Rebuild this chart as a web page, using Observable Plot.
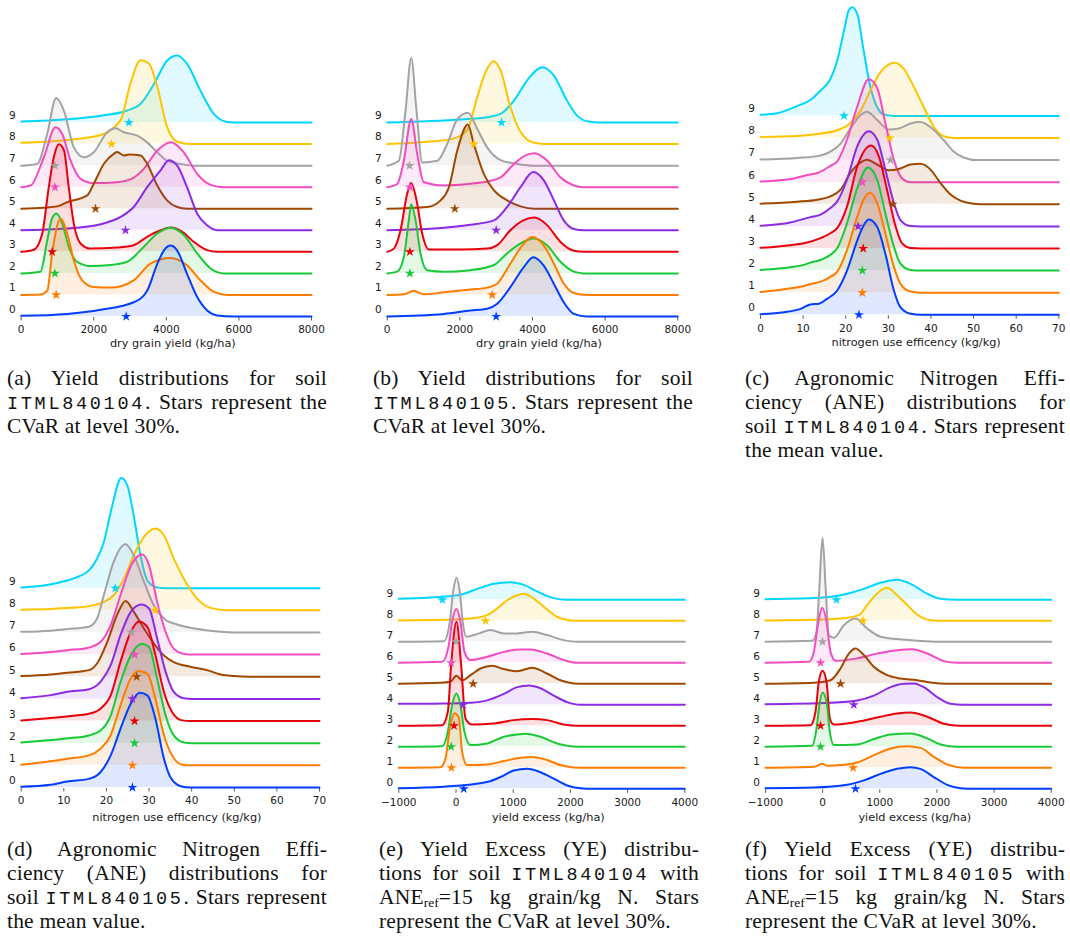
<!DOCTYPE html>
<html><head><meta charset="utf-8">
<script src="https://cdn.jsdelivr.net/npm/d3@7"></script>
<script src="https://cdn.jsdelivr.net/npm/@observablehq/plot@0.6"></script>
<style>
body{margin:0;background:#fff;}
#root{position:relative;width:1070px;height:947px;overflow:hidden;background:#fff;}
.panel{position:absolute;}
.cap{position:absolute;width:320px;font-family:"Liberation Serif","Times New Roman",serif;font-size:21.5px;letter-spacing:0.2px;line-height:24.3px;color:#111;}
.cap div{text-align:justify;text-align-last:justify;}
.cap div.last{text-align:left;text-align-last:left;}
.cap code{font-family:"Liberation Mono","DejaVu Sans Mono",monospace;font-size:18.5px;letter-spacing:2.7px;line-height:0;}
.cap sub{font-size:13.5px;line-height:0;vertical-align:-3px;letter-spacing:0;}
</style>
</head><body>
<div id="root"></div>
<script>
// ---------- shared ----------
const seriesLabels = ["0","1","2","3","4","5","6","7","8","9"];
const palette = ["#023eff","#ff7c00","#1ac938","#e8000b","#8b2be2","#9f4800","#f14cc1","#a3a3a3","#ffc400","#00d7ff"];
const ticksYield = [0,2000,4000,6000,8000];
const ticksNue = [0,10,20,30,40,50,60,70];
const ticksYe = [-1000,0,1000,2000,3000,4000];

// ---------- (a) yield, ITML840104 : [value, density height in ridge units] ----------
const densA = [
 [[0,0.03],[1270,0.12],[2190,0.31],[3100,0.66],[3470,1.2],[3750,2.44],[3930,3.06],[4115,3.29],[4300,3.06],[4570,1.98],[4850,0.9],[5125,0.28],[5400,0.05],[5860,0],[8000,0]],
 [[0,0],[530,0.02],[720,0.2],[850,1.9],[1080,3.54],[1270,2.84],[1450,1.6],[1680,0.68],[2000,0.37],[2460,0.34],[3100,0.68],[3560,1.45],[4115,1.72],[4570,1.38],[4940,0.68],[5310,0.14],[5680,0],[8000,0]],
 [[0,0],[530,0.08],[720,1.55],[850,2.55],[975,2.78],[1130,2.32],[1310,1.24],[1540,0.54],[1910,0.34],[2460,0.39],[2920,0.54],[3380,1.24],[3750,1.85],[4115,2.12],[4480,1.78],[4850,0.93],[5220,0.23],[5580,0],[8000,0]],
 [[0,0],[350,0.1],[580,0.85],[760,3.0],[900,4.4],[1040,4.99],[1180,4.7],[1310,3.0],[1450,1.31],[1635,0.39],[1910,0.15],[2645,0.2],[3100,0.31],[3470,0.7],[3840,1.0],[4115,1.13],[4440,0.93],[4760,0.46],[5125,0.08],[5400,0],[8000,0]],
 [[0,0],[1270,0.08],[2190,0.28],[2740,0.62],[3100,1.08],[3470,2.0],[3840,2.78],[4070,3.25],[4300,3.0],[4570,2.0],[4850,0.77],[5125,0.23],[5400,0],[8000,0]],
 [[0,0],[625,0.05],[990,0.11],[1270,0.31],[1820,0.62],[2000,1.16],[2280,2.09],[2550,2.55],[2645,2.63],[2830,2.47],[2970,2.52],[3290,2.47],[3470,2.09],[3750,1.08],[4020,0.39],[4300,0.08],[4570,0],[8000,0]],
 [[0,0],[260,0.08],[625,1.39],[946,2.78],[1130,2.47],[1360,1.24],[1635,0.39],[2000,0.19],[2645,0.23],[3010,0.36],[3380,0.85],[3750,1.7],[4130,2.09],[4480,1.62],[4850,0.62],[5220,0.11],[5580,0],[8000,0]],
 [[0,0],[440,0.08],[716,1.47],[964,3.14],[1176,2.55],[1450,0.85],[1730,0.39],[2000,0.62],[2370,1.55],[2600,1.73],[2830,1.55],[3200,1.39],[3470,1.08],[3750,0.62],[4020,0.23],[4390,0.08],[4760,0],[8000,0]],
 [[0,0.06],[1270,0.19],[2190,0.42],[2740,1.11],[3010,2.81],[3290,3.89],[3520,3.74],[3750,2.66],[4020,0.8],[4300,0.11],[4660,0],[8000,0]],
 [[0,0.05],[1270,0.15],[2190,0.32],[2920,0.56],[3290,0.87],[3660,1.79],[4020,2.87],[4300,3.11],[4570,2.72],[4940,1.48],[5310,0.4],[5680,0.03],[6060,0],[8000,0]]
];
const starsA = [2893, 964, 928, 854, 2875, 2048, 928, 928, 2489, 2967];

// ---------- (b) yield, ITML840105 ----------
const densB = [
 [[0,0],[1560,0.12],[2290,0.28],[2750,0.36],[3030,0.59],[3390,1.36],[3760,2.29],[4020,2.75],[4310,2.36],[4590,1.51],[4860,0.66],[5140,0.12],[5500,0],[8000,0]],
 [[0,0],[460,0.03],[730,0.19],[1010,0.03],[1560,0.12],[2290,0.25],[2750,0.34],[3030,0.53],[3390,1.45],[3760,2.38],[3990,2.69],[4310,2.3],[4590,1.45],[4860,0.53],[5140,0.09],[5500,0],[8000,0]],
 [[0,0],[275,0.08],[460,0.77],[596,2.47],[661,3.21],[780,2.47],[917,0.93],[1100,0.15],[1560,0.08],[2290,0.15],[2940,0.39],[3300,0.93],[3670,1.39],[4040,1.62],[4400,1.31],[4770,0.54],[5140,0.08],[5410,0],[8000,0]],
 [[0,0],[183,0.15],[367,1.0],[550,2.7],[661,3.2],[807,2.4],[963,0.85],[1150,0.11],[2020,0.11],[2750,0.15],[3030,0.31],[3390,1.0],[3760,1.47],[4055,1.59],[4400,1.24],[4770,0.46],[5140,0.05],[5410,0],[8000,0]],
 [[0,0],[1560,0.12],[2290,0.26],[2940,0.46],[3300,1.08],[3670,2.0],[4020,2.7],[4310,2.32],[4590,1.39],[4860,0.46],[5140,0.06],[5410,0],[8000,0]],
 [[0,0],[1100,0.08],[1470,0.39],[1700,1.0],[1930,2.7],[2220,3.91],[2385,3.0],[2660,1.62],[2940,0.85],[3300,0.39],[3670,0.11],[4040,0],[8000,0]],
 [[0,0],[275,0.15],[460,1.24],[661,3.17],[826,1.55],[1010,0.23],[1560,0.08],[2480,0.19],[3120,0.46],[3490,1.08],[3850,1.51],[4055,1.58],[4400,1.24],[4770,0.46],[5140,0.08],[5410,0],[8000,0]],
 [[0,0],[320,0.23],[505,2.55],[661,4.99],[807,2.55],[963,0.15],[1380,0.23],[1650,1.0],[1930,2.16],[2220,2.46],[2480,1.7],[2750,0.85],[3120,0.26],[3580,0.08],[4040,0],[8000,0]],
 [[0,0],[1100,0.11],[1740,0.22],[2200,0.65],[2480,2.19],[2710,3.35],[2920,3.85],[3120,3.43],[3390,1.73],[3670,0.57],[4040,0.06],[4400,0],[8000,0]],
 [[0,0],[1100,0.06],[2020,0.14],[2750,0.25],[3120,0.4],[3490,1.02],[3850,1.95],[4270,2.57],[4590,2.18],[4950,1.02],[5230,0.32],[5500,0.06],[5870,0],[8000,0]]
];
const starsB = [3000, 2890, 624, 624, 3000, 1862, 624, 615, 2385, 3147];

// ---------- (c) ANE, ITML840104 ----------
const densC = [
 [[0,0.03],[5.5,0.12],[9.4,0.27],[11.7,0.47],[13.7,0.5],[15.6,0.72],[18,1.1],[20.3,2.0],[22.7,3.36],[24.2,4.04],[25.4,4.31],[27.4,3.97],[29.3,2.76],[31.3,1.1],[32.8,0.35],[35.2,0.05],[37.5,0],[70,0]],
 [[0,0.03],[6.3,0.18],[9.4,0.27],[11.7,0.39],[14.1,0.5],[16.4,0.72],[18,0.95],[20.3,1.93],[22.7,3.44],[24.2,4.22],[25.7,4.52],[27.4,4.04],[29.3,2.68],[31.3,1.18],[32.8,0.42],[35.2,0.05],[37.5,0],[70,0]],
 [[0,0.03],[7,0.15],[10.2,0.26],[11.7,0.36],[14.1,0.48],[16.4,0.71],[18,1.01],[20.3,2.14],[22.7,3.73],[25.2,4.66],[27.4,4.1],[29.3,2.59],[31.3,1.09],[32.8,0.33],[35.2,0.03],[37.5,0],[70,0]],
 [[0,0.03],[7,0.15],[10.2,0.24],[14.1,0.47],[16.4,0.69],[18,0.92],[20.3,1.9],[22.7,3.71],[26,4.66],[27.8,4.16],[29.7,2.65],[31.7,1.0],[33.2,0.24],[35.2,0.02],[37.5,0],[70,0]],
 [[0,0.03],[7,0.18],[11.7,0.42],[14.1,0.53],[16.4,0.83],[18,1.13],[20.3,2.11],[22.7,3.62],[25.4,4.3],[27.4,3.92],[29.3,2.56],[31.3,1.06],[32.8,0.3],[35.2,0.02],[37.5,0],[70,0]],
 [[0,0.03],[8.6,0.12],[13.3,0.21],[16.4,0.36],[18.8,0.66],[21.1,1.42],[23.5,1.9],[25,2.02],[27.4,1.8],[30.1,1.54],[32.5,1.6],[35.2,1.8],[37.5,1.83],[39.9,1.57],[42.2,0.97],[44.6,0.44],[46.9,0.17],[50,0.03],[53.2,0],[70,0]],
 [[0,0.03],[7,0.14],[11,0.33],[13.7,0.44],[16.4,0.74],[18,0.94],[20.3,1.92],[22.7,3.42],[25.4,4.66],[27.4,4.25],[29.3,2.67],[31.3,1.01],[33.2,0.18],[35.2,0],[70,0]],
 [[0,0.03],[8.6,0.1],[13.3,0.18],[16.4,0.38],[18.8,0.75],[21.1,1.43],[23.5,2.04],[25,2.19],[27.4,1.81],[30.1,1.39],[32.5,1.43],[35.2,1.66],[37.5,1.72],[40.3,1.43],[43,0.9],[45.4,0.38],[47.7,0.12],[50.8,0],[70,0]],
 [[0,0.05],[8.6,0.09],[14.1,0.2],[18,0.35],[21.1,0.68],[23.5,1.25],[25.8,2.16],[28.2,2.99],[31.5,3.41],[33.6,3.14],[36,2.31],[38.3,1.4],[40.7,0.5],[43,0.08],[45.4,0],[70,0]],
 [[0,0.05],[3.9,0.12],[7,0.32],[9.4,0.51],[11.7,0.72],[14.1,1.15],[16.4,1.67],[18,2.5],[19.6,3.86],[20.7,4.77],[21.5,4.92],[22.7,4.62],[24.2,2.96],[25.8,1.3],[27.4,0.39],[28.9,0.06],[31.3,0],[70,0]]
];
const starsC = [23.1, 23.9, 23.9, 24.1, 22.9, 31.0, 23.9, 30.5, 30.3, 19.6];

// ---------- (d) ANE, ITML840105 ----------
const densD = [
 [[0,0.03],[6.9,0.12],[10.8,0.27],[15.9,0.39],[18.6,0.69],[21,1.45],[23.3,2.65],[25.7,3.78],[27.8,4.28],[29.6,4.16],[31.5,3.1],[33.5,1.3],[35,0.47],[37.4,0.06],[39.7,0],[70,0]],
 [[0,0.03],[6.9,0.18],[10.8,0.3],[15.9,0.45],[18.6,0.75],[21,1.36],[23.3,2.71],[25.7,3.92],[27.6,4.26],[29.6,4.14],[31.5,3.01],[33.5,1.36],[35.4,0.45],[37.8,0.03],[39.7,0],[70,0]],
 [[0,0.03],[6.9,0.14],[11.6,0.23],[15.9,0.35],[18.6,0.57],[21,1.25],[23.3,2.76],[25.7,3.96],[28.4,4.49],[30,4.34],[31.9,2.91],[33.9,1.25],[35.8,0.35],[38.2,0.03],[40,0],[70,0]],
 [[0,0.03],[6.9,0.14],[11.6,0.23],[15.9,0.33],[18.6,0.56],[21,1.16],[23.3,2.67],[25.7,4.02],[27.6,4.5],[29.6,4.25],[31.5,2.97],[33.5,1.31],[35.4,0.41],[37.8,0.03],[39.7,0],[70,0]],
 [[0,0.03],[6.9,0.17],[10.8,0.32],[15.9,0.44],[18.6,0.77],[21,1.52],[23.3,2.88],[25.7,3.93],[28.2,4.26],[30,4.08],[31.9,2.73],[33.9,1.22],[35.8,0.32],[38.2,0.03],[40,0],[70,0]],
 [[0,0.03],[6.9,0.1],[10.8,0.18],[15.9,0.3],[17.8,0.6],[20.2,1.58],[22.5,2.79],[24.5,3.42],[26.4,2.94],[28.8,2.18],[31.1,1.51],[33.5,0.96],[35.8,0.66],[39.7,0.45],[43.6,0.3],[46.8,0.1],[49.9,0.03],[53.8,0],[70,0]],
 [[0,0.03],[6.9,0.12],[10.8,0.2],[15.5,0.3],[18.6,0.57],[21,1.33],[23.3,2.68],[26,4.1],[28.4,4.52],[30,4.04],[31.9,2.38],[33.9,1.02],[35.8,0.27],[38.2,0.03],[40,0],[70,0]],
 [[0,0.03],[6.9,0.08],[10.8,0.15],[15.9,0.26],[17.8,0.63],[19.4,1.69],[21.7,3.19],[24.5,3.98],[26.4,3.49],[28.8,2.29],[31.1,1.23],[33.5,0.63],[36.6,0.36],[39.7,0.21],[42.9,0.11],[46.8,0.03],[50,0],[70,0]],
 [[0,0.03],[6.9,0.06],[11.6,0.11],[16.3,0.2],[19.4,0.38],[21.7,0.68],[24.1,1.43],[26.4,2.48],[28.8,3.31],[31.5,3.69],[33.5,3.39],[35.8,2.33],[38.6,1.28],[41.3,0.53],[44.4,0.11],[48.3,0],[70,0]],
 [[0,0.03],[5.3,0.12],[9.2,0.27],[13.1,0.5],[15.9,0.8],[17.8,1.33],[19.4,2.08],[21,3.43],[23.5,4.97],[24.9,4.64],[26.4,3.28],[28,1.48],[29.6,0.35],[31.9,0.03],[34,0],[70,0]]
];
const starsD = [26.1, 26.1, 26.6, 26.6, 26.1, 27.1, 26.6, 25.9, 31.4, 22.1];

// ---------- (e) yield excess, ITML840104 ----------
const densE = [
 [[-1000,0.03],[-213,0.1],[544,0.32],[777,0.56],[1010,0.87],[1244,0.95],[1477,0.79],[1710,0.48],[1943,0.16],[2176,0.03],[2400,0],[4000,0]],
 [[-1000,0],[-272,0.03],[-184,0.44],[-108,1.87],[-27,2.6],[49,2.4],[107,0.76],[195,0.13],[544,0.16],[836,0.32],[1127,0.48],[1331,0.52],[1593,0.37],[1826,0.13],[2059,0.02],[2300,0],[4000,0]],
 [[-1000,0],[-242,0.03],[-143,0.71],[-68,1.98],[8,2.54],[78,1.98],[148,0.71],[253,0.08],[544,0.16],[836,0.48],[1069,0.59],[1214,0.62],[1477,0.48],[1768,0.16],[2001,0.03],[2250,0],[4000,0]],
 [[-1000,0],[-242,0.03],[-143,0.67],[-85,2.89],[8,4.95],[90,2.89],[166,0.35],[282,0.06],[661,0.11],[1010,0.27],[1331,0.32],[1593,0.27],[1885,0.06],[2120,0],[4000,0]],
 [[-1000,0.05],[-213,0.06],[253,0.1],[544,0.21],[836,0.52],[1069,0.84],[1273,0.92],[1477,0.79],[1710,0.44],[1943,0.13],[2176,0],[4000,0]],
 [[-1000,0],[-272,0.05],[-97,0.1],[8,0.38],[107,0.17],[253,0.41],[428,0.73],[632,0.86],[836,0.7],[1069,0.6],[1331,0.76],[1593,0.49],[1826,0.17],[2059,0.02],[2300,0],[4000,0]],
 [[-1000,0],[-242,0.05],[-126,0.84],[-68,1.95],[8,2.56],[78,1.95],[148,0.52],[253,0.13],[544,0.29],[836,0.52],[1127,0.63],[1302,0.63],[1593,0.44],[1885,0.13],[2118,0],[4000,0]],
 [[-1000,0],[-213,0.03],[-108,0.95],[-50,2.38],[8,3.05],[66,2.38],[125,0.79],[183,0.24],[311,0.32],[486,0.48],[603,0.56],[836,0.4],[1069,0.4],[1331,0.48],[1593,0.32],[1885,0.08],[2120,0],[4000,0]],
 [[-1000,0.02],[-213,0.05],[253,0.11],[544,0.27],[719,0.59],[894,0.98],[1069,1.22],[1185,1.29],[1360,1.06],[1535,0.67],[1768,0.19],[2001,0.02],[2240,0],[4000,0]],
 [[-1000,0.05],[-505,0.1],[78,0.24],[370,0.52],[661,0.76],[952,0.84],[1185,0.71],[1418,0.4],[1710,0.08],[1943,0],[4000,0]]
];
const starsE = [136, -79, -85, -33, 125, 300, -85, 2, 515, -237];

// ---------- (f) yield excess, ITML840105 ----------
const densF = [
 [[-1000,0.03],[-154,0.06],[429,0.19],[721,0.4],[1013,0.71],[1304,0.95],[1538,1.03],[1713,0.95],[1946,0.56],[2180,0.19],[2413,0.03],[2650,0],[4000,0]],
 [[-1000,0],[-154,0.05],[-8,0.19],[79,0.1],[313,0.13],[604,0.25],[896,0.6],[1188,0.92],[1480,1.03],[1713,0.95],[1946,0.52],[2180,0.16],[2471,0],[4000,0]],
 [[-1000,0],[-183,0.05],[-107,0.87],[-49,2.14],[-2,2.59],[68,2.14],[126,0.71],[196,0.08],[604,0.11],[896,0.37],[1188,0.59],[1538,0.63],[1830,0.4],[2063,0.11],[2355,0],[4000,0]],
 [[-1000,0],[-212,0.03],[-125,0.67],[-67,2.1],[-2,2.62],[68,2.1],[126,0.35],[196,0.06],[604,0.19],[1013,0.43],[1304,0.59],[1538,0.63],[1830,0.43],[2121,0.1],[2400,0],[4000,0]],
 [[-1000,0.03],[138,0.1],[604,0.21],[896,0.44],[1188,0.84],[1421,1.0],[1596,1.02],[1771,0.84],[2005,0.37],[2238,0.05],[2450,0],[4000,0]],
 [[-1000,0],[-154,0.05],[138,0.17],[313,0.73],[459,1.44],[575,1.68],[721,1.37],[896,0.81],[1129,0.41],[1363,0.25],[1655,0.17],[1888,0.06],[2180,0],[4000,0]],
 [[-1000,0],[-242,0.05],[-154,0.52],[-84,1.79],[-8,2.62],[68,1.95],[138,0.52],[225,0.1],[604,0.21],[954,0.44],[1304,0.6],[1567,0.65],[1830,0.44],[2121,0.08],[2360,0],[4000,0]],
 [[-1000,0],[-183,0.05],[-107,0.48],[-61,2.38],[-2,4.95],[56,2.38],[108,0.32],[196,0.19],[371,0.79],[575,1.11],[779,0.63],[1013,0.24],[1304,0.13],[1655,0.05],[2005,0],[4000,0]],
 [[-1000,0.02],[-154,0.05],[313,0.11],[634,0.27],[779,0.75],[954,1.3],[1129,1.57],[1304,1.22],[1480,0.75],[1655,0.3],[1888,0.03],[2121,0],[4000,0]],
 [[-1000,0.03],[-154,0.08],[429,0.29],[721,0.52],[1013,0.81],[1304,0.95],[1538,0.76],[1830,0.29],[2063,0.05],[2355,0],[4000,0]]
];
const starsF = [575, 534, -37, -37, 546, 313, -37, -2, 704, 243];

// ---------- captions ----------
const capA = ["(a) Yield distributions for soil", "<code>ITML840104</code>. Stars represent the", "CVaR at level 30%."];
const capB = ["(b) Yield distributions for soil", "<code>ITML840105</code>. Stars represent the", "CVaR at level 30%."];
const capC = ["(c) Agronomic Nitrogen Effi-", "ciency (ANE) distributions for", "soil <code>ITML840104</code>. Stars represent", "the mean value."];
const capD = ["(d) Agronomic Nitrogen Effi-", "ciency (ANE) distributions for", "soil <code>ITML840105</code>. Stars represent", "the mean value."];
const capE = ["(e) Yield Excess (YE) distribu-", "tions for soil <code>ITML840104</code> with", "ANE<sub>ref</sub>=15 kg grain/kg N. Stars", "represent the CVaR at level 30%."];
const capF = ["(f) Yield Excess (YE) distribu-", "tions for soil <code>ITML840105</code> with", "ANE<sub>ref</sub>=15 kg grain/kg N. Stars", "represent the CVaR at level 30%."];

const labelYield = "dry grain yield (kg/ha)";
const labelNue = "nitrogen use efficency (kg/kg)";
const labelYe = "yield excess (kg/ha)";

// ---------- layout ----------
const panels = [
 {dens: densA, stars: starsA, domain: [0,8000], ticks: ticksYield, label: labelYield, left: 0, top: 0, x0: 20.7, x1: 311, yb0: 316, unit: 21.55, ldy: 26, cap: capA, capLeft: 7, capTop: 365.6},
 {dens: densB, stars: starsB, domain: [0,8000], ticks: ticksYield, label: labelYield, left: 360, top: 0, x0: 386.7, x1: 677.3, yb0: 316, unit: 21.55, ldy: 26, cap: capB, capLeft: 373, capTop: 365.6},
 {dens: densC, stars: starsC, domain: [0,70], ticks: ticksNue, label: labelNue, left: 730, top: 0, x0: 760, x1: 1058.3, yb0: 314.3, unit: 22.1, ldy: 27, cap: capC, capLeft: 745, capTop: 365.6},
 {dens: densD, stars: starsD, domain: [0,70], ticks: ticksNue, label: labelNue, left: 0, top: 465, x0: 20.7, x1: 319, yb0: 787, unit: 22.15, ldy: 28.5, cap: capD, capLeft: 7, capTop: 836.6},
 {dens: densE, stars: starsE, domain: [-1000,4000], ticks: ticksYe, label: labelYe, left: 360, top: 465, x0: 398.3, x1: 684.3, yb0: 788.3, unit: 21.0, ldy: 27.5, cap: capE, capLeft: 379, capTop: 836.6},
 {dens: densF, stars: starsF, domain: [-1000,4000], ticks: ticksYe, label: labelYe, left: 730, top: 465, x0: 765, x1: 1050.7, yb0: 788.3, unit: 21.0, ldy: 27.5, cap: capF, capLeft: 745, capTop: 836.6}
];

const root = document.getElementById("root");
const W = 340, H = 360;

for (const p of panels) {
  const yb = p.yb0 - p.top;
  const marks = [];
  for (let i = 9; i >= 0; i--) {
    const pts = p.dens[i].map(([x, h]) => ({x, b: i, y: i + h}));
    marks.push(Plot.areaY(pts, {x: "x", y1: "b", y2: "y", fill: palette[i], fillOpacity: 0.12, curve: "monotone-x"}));
    marks.push(Plot.lineY(pts, {x: "x", y: "y", stroke: palette[i], strokeWidth: 2, curve: "monotone-x"}));
  }
  p.stars.forEach((v, i) => {
    marks.push(Plot.dot([{x: v, y: i}], {x: "x", y: "y", symbol: "star", r: 3.1, fill: palette[i], stroke: "none"}));
  });
  marks.push(Plot.text(seriesLabels, {x: p.domain[0], y: d => +d, text: d => d, dx: -5.5, dy: p.top ? -6.5 : -7, textAnchor: "end", fontSize: 10.5, fill: "#1a1a1a"}));
  marks.push(Plot.axisX({ticks: p.ticks, tickFormat: d3.format("d"), tickSize: 3.5, tickPadding: 5, fontSize: 10.5, stroke: "#333", strokeWidth: 0.8, fill: "#1a1a1a", label: null}));
  marks.push(Plot.text([p.label], {frameAnchor: "bottom", lineAnchor: "middle", text: d => d, dx: 6.5, dy: p.ldy, fontSize: 11.3, fill: "#1a1a1a"}));

  const svg = Plot.plot({
    width: W, height: H,
    marginLeft: p.x0 - p.left,
    marginRight: W - (p.x1 - p.left),
    marginTop: 0,
    marginBottom: H - (yb + 1),
    x: {domain: p.domain},
    y: {domain: [0, 15], range: [yb, yb - 15 * p.unit], axis: null},
    style: {fontFamily: "DejaVu Sans", fontSize: "10.5px", overflow: "visible", background: "transparent", color: "#1a1a1a"},
    marks
  });
  const div = document.createElement("div");
  div.className = "panel";
  div.style.left = p.left + "px";
  div.style.top = p.top + "px";
  div.appendChild(svg);
  root.appendChild(div);

  const cap = document.createElement("div");
  cap.className = "cap";
  cap.style.left = p.capLeft + "px";
  cap.style.top = p.capTop + "px";
  p.cap.forEach((line, k) => {
    const d = document.createElement("div");
    if (k === p.cap.length - 1) d.className = "last";
    d.innerHTML = line;
    cap.appendChild(d);
  });
  root.appendChild(cap);
}
</script>
</body></html>
